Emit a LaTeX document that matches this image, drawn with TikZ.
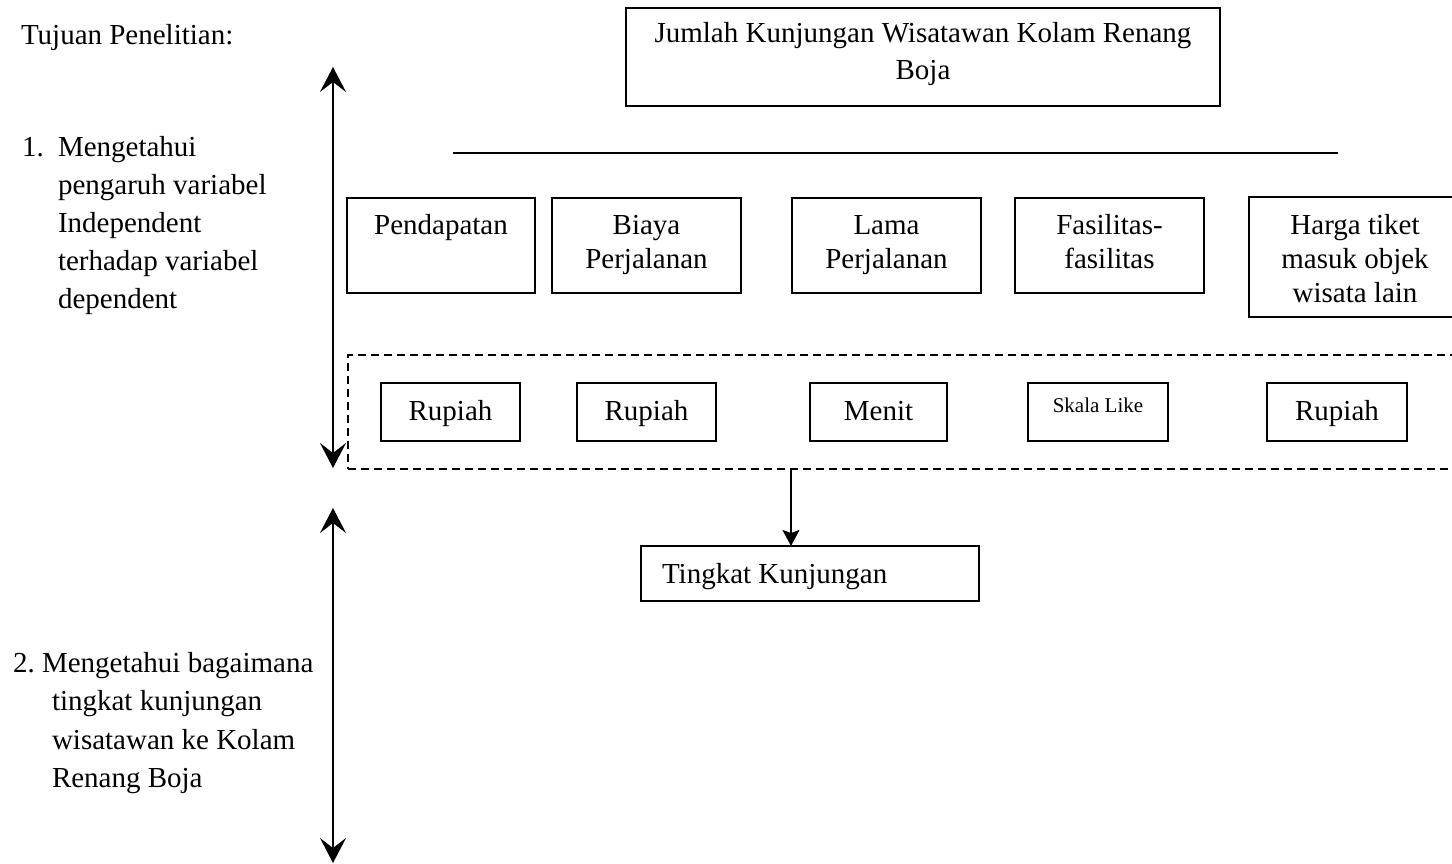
\documentclass[tikz,border=0pt]{standalone}
\usepackage{fontspec}
\setmainfont{Liberation Serif}
\usetikzlibrary{arrows.meta}
\begin{document}
\begin{tikzpicture}[x=1pt,y=-1pt,
  font=\fontsize{29}{36}\selectfont,
  box/.style={draw,line width=1.8pt,inner sep=0pt,outer sep=0pt},
  txt/.style={inner sep=0pt,outer sep=0pt,anchor=base},
  txtl/.style={inner sep=0pt,outer sep=0pt,anchor=base west},
  bigarrow/.style={line width=1.8pt,{Stealth[length=25pt,width=26pt,inset=10pt]}-{Stealth[length=25pt,width=26pt,inset=10pt]}},
  conn/.style={line width=1.8pt,-{Stealth[length=16pt,width=17pt,inset=3pt]}}
]
\clip (0,0) rectangle (1452,864);
\fill[white] (0,0) rectangle (1452,864);

% left column
\node[txtl] (tujuan) at (21,45) {Tujuan Penelitian:};
\node[txtl] (n1) at (22,157) {1.};
\node[txtl] (a1) at (58,157) {Mengetahui};
\node[txtl] (a2) at (58,195) {pengaruh variabel};
\node[txtl] (a3) at (58,233) {Independent};
\node[txtl] (a4) at (58,270) {terhadap variabel};
\node[txtl] (a5) at (58,308) {dependent};
\node[txtl] (n2) at (13,672) {2.};
\node[txtl] (b1) at (42,672) {Mengetahui bagaimana};
\node[txtl] (b2) at (52,710) {tingkat kunjungan};
\node[txtl] (b3) at (52,749) {wisatawan ke Kolam};
\node[txtl] (b4) at (52,787) {Renang Boja};

% vertical double arrows
\coordinate (v1t) at (333,67);
\coordinate (v1b) at (333,468);
\coordinate (v2t) at (333,508);
\coordinate (v2b) at (333,863);
\draw[bigarrow] (v1t) -- (v1b);
\draw[bigarrow] (v2t) -- (v2b);

% top box
\node[box,minimum width=594pt,minimum height=98pt] (top) at (923,57) {};
\node[txt] (topt1) at (923,43) {Jumlah Kunjungan Wisatawan Kolam Renang};
\node[txt] (topt2) at (923,80) {Boja};

% horizontal line
\coordinate (hl) at (453,153);
\coordinate (hr) at (1338,153);
\draw[line width=1.8pt] (hl) -- (hr);

% row 1 boxes
\node[box,minimum width=188pt,minimum height=95pt] (pend) at (441,245.5) {};
\node[txt] at (441,234) {Pendapatan};
\node[box,minimum width=189pt,minimum height=95pt] (biaya) at (646.5,245.5) {};
\node[txt] at (646.5,234) {Biaya};
\node[txt] at (646.5,268) {Perjalanan};
\node[box,minimum width=189pt,minimum height=95pt] (lama) at (886.5,245.5) {};
\node[txt] at (886.5,234) {Lama};
\node[txt] at (886.5,268) {Perjalanan};
\node[box,minimum width=189pt,minimum height=95pt] (fas) at (1109.5,245.5) {};
\node[txt] at (1109.5,234) {Fasilitas-};
\node[txt] at (1109.5,268) {fasilitas};
\node[box,minimum width=212pt,minimum height=120pt] (harga) at (1355,257) {};
\node[txt] at (1355,234) {Harga tiket};
\node[txt] at (1355,268) {masuk objek};
\node[txt] at (1355,302) {wisata lain};

% dashed group
\node[box,dash pattern=on 8pt off 5pt,minimum width=1122pt,minimum height=114pt] (grp) at (909,412) {};

% row 2 boxes
\node[box,minimum width=139pt,minimum height=58pt] (r1) at (450.5,412) {};
\node[txt] at (450.5,420) {Rupiah};
\node[box,minimum width=139pt,minimum height=58pt] (r2) at (646.5,412) {};
\node[txt] at (646.5,420) {Rupiah};
\node[box,minimum width=137pt,minimum height=58pt] (r3) at (878.5,412) {};
\node[txt] at (878.5,420) {Menit};
\node[box,minimum width=140pt,minimum height=58pt] (r4) at (1098,412) {};
\node[txt,font=\fontsize{21}{25}\selectfont] at (1098,412) {Skala Like};
\node[box,minimum width=140pt,minimum height=58pt] (r5) at (1337,412) {};
\node[txt] at (1337,420) {Rupiah};

% result box
\node[box,minimum width=338pt,minimum height=55pt] (tk) at (810,573.5) {};
\node[txtl] at (662,583) {Tingkat Kunjungan};

% connector
\coordinate (cx) at (791,0);
\draw[conn] (grp.south -| cx) -- (tk.north -| cx);
\end{tikzpicture}
\end{document}
